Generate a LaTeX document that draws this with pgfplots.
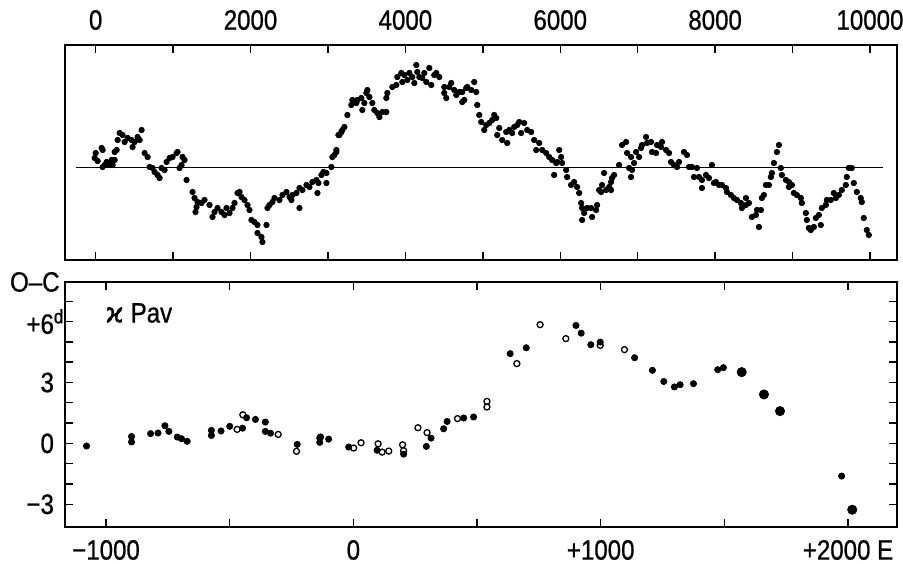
\documentclass[border=0pt]{standalone}
\usepackage{fontspec}
\setmainfont{Liberation Sans}[FakeStretch=0.86, FakeBold=0.8]
\newfontfamily\dejavu{DejaVu Sans}[FakeBold=0.8]
\usepackage{pgfplots}
\pgfplotsset{compat=1.18}
\usepackage{pgfplotstable}

% upper panel: O-C residuals of the dots, E from 0 to 10000 (y in arbitrary units)
\pgfplotstableread{
E y
0 14
-13 9
26 6
77 19
90 17
116 2
90 0
142 5
181 2
206 7
219 2
245 7
245 15
271 17
310 34
348 32
284 27
374 25
413 29
464 27
477 20
503 25
542 30
568 27
593 37
632 14
671 10
697 0
735 -1
761 -5
800 -8
826 -11
851 -1
890 -3
916 5
955 9
993 10
1045 14
1058 15
1109 2
1122 10
1148 7
1084 -1
1174 -13
1251 -25
1277 -31
1316 -35
1367 -36
1303 -40
1290 -45
1406 -33
1471 -38
1509 -50
1535 -45
1574 -41
1625 -45
1664 -48
1690 -41
1729 -46
1767 -41
1793 -36
1832 -26
1858 -25
1883 -30
1922 -33
1961 -38
1987 -43
2012 -53
2051 -55
2090 -58
2090 -66
2141 -70
2154 -75
2206 -58
2219 -41
2245 -38
2283 -35
2309 -31
2374 -33
2412 -28
2464 -25
2503 -30
2528 -33
2541 -28
2593 -26
2632 -41
2632 -21
2670 -23
2722 -18
2761 -20
2799 -15
2851 -13
2877 -16
2864 -26
2915 -8
2941 -5
2980 -6
2980 -16
3044 0
3057 10
3083 12
3109 15
3109 17
3135 32
3148 32
3186 37
3212 40
3173 35
3251 52
3302 62
3315 67
3367 64
3380 67
3431 69
3444 57
3470 64
3496 74
3509 77
3535 70
3573 64
3599 57
3638 54
3664 50
3702 55
3754 55
3754 69
3767 74
3831 80
3883 82
3896 90
3947 94
3960 85
3986 92
4025 87
4051 94
4089 90
4115 84
4141 102
4154 95
4180 90
4218 89
4244 94
4270 85
4309 99
4334 82
4373 92
4399 94
4438 90
4502 80
4502 74
4528 69
4567 80
4592 84
4631 77
4657 72
4696 75
4734 65
4786 79
4734 75
4760 67
4799 80
4850 77
4889 85
4915 75
4928 62
4954 52
4979 45
5018 37
5044 42
5083 44
5121 47
5147 52
5173 49
5186 32
5212 39
5250 27
5302 35
5315 24
5341 37
5379 34
5405 40
5444 42
5470 45
5495 34
5534 44
5573 37
5624 35
5663 27
5689 17
5728 24
5766 17
5818 14
5857 10
5895 7
5947 4
5921 -8
5960 5
5986 17
6011 10
6024 4
6076 -3
6089 -10
6140 -18
6179 -15
6218 -20
6244 -26
6269 -36
6282 -41
6308 -46
6282 -53
6347 -41
6398 -41
6411 -50
6463 -43
6476 -38
6502 -23
6540 -18
6566 -6
6527 -25
6592 -23
6631 -20
6656 -15
6669 -11
6695 -8
6656 -23
6760 2
6798 22
6850 25
6863 14
6914 10
6889 -1
6914 -10
6927 -3
6953 4
6979 15
7018 10
7043 19
7056 22
7108 30
7121 24
7172 25
7185 15
7237 14
7250 22
7301 20
7314 25
7366 17
7405 14
7430 5
7469 2
7508 0
7534 5
7598 15
7637 12
7663 0
7701 0
7727 -10
7766 -1
7792 -10
7830 -13
7882 -8
7921 -11
7959 2
7985 -16
8011 -15
7830 -21
8050 -18
8088 -18
8140 -21
8153 -25
8204 -28
8243 -31
8282 -33
8333 -36
8346 -41
8398 -31
8398 -38
8437 -36
8475 -50
8527 -48
8540 -43
8566 -60
8591 -43
8604 -31
8630 -28
8656 -18
8695 -18
8720 -10
8733 -6
8759 4
8798 15
8824 22
8849 -1
8862 -8
8914 -13
8953 -15
8953 -20
8991 -18
9017 -26
9056 -28
9107 -31
9120 -36
9172 -46
9185 -53
9211 -61
9236 -63
9275 -60
9301 -51
9340 -48
9365 -58
9378 -41
9430 -38
9443 -33
9494 -33
9533 -26
9559 -31
9598 -28
9636 -23
9688 -18
9701 -10
9727 -1
9765 -1
9791 -16
9830 -25
9881 -31
9894 -35
9920 -51
9959 -63
9985 -68
}\topdata

% lower panel, kappa Pav
\pgfplotstableread{
E oc
-1079 -0.13
-897 0.34
-897 0.07
-820 0.48
-790 0.51
-762 0.87
-746 0.59
-712 0.31
-695 0.23
-672 0.10
-574 0.64
-574 0.39
-535 0.61
-500 0.84
-448 0.75
-432 1.26
-396 1.18
-356 1.05
-356 0.59
-335 0.50
-227 -0.05
-136 0.26
-136 0.05
-100 0.21
-19 -0.18
96 -0.34
203 -0.53
295 -0.15
314 0.26
365 0.72
379 1.08
446 1.25
486 1.30
634 4.42
699 4.71
900 5.81
921 5.43
960 4.86
998 4.99
1137 4.22
1209 3.60
1255 3.05
1298 2.78
1321 2.89
1375 2.94
1473 3.63
1496 3.73
1974 -1.61
}\filled

\pgfplotstableread{
E oc
1570 3.51
1660 2.41
1725 1.59
2017 -3.27
}\bigdots

\pgfplotstableread{
E oc
-470 0.69
-447 1.41
-304 0.44
-230 -0.39
-133 0.31
1 -0.23
31 0.03
100 -0.02
116 -0.43
143 -0.38
199 -0.07
203 -0.36
261 0.77
298 0.53
421 1.22
540 2.07
540 1.79
661 3.93
755 5.85
859 5.16
998 4.83
1096 4.62
}\opendots

\pgfplotsset{
  panel/.style={
    scale only axis,
    width=416pt,
    axis line style={line width=0.9pt},
    tick align=inside,
    major tick length=4pt,
    minor tick length=4pt,
    every tick/.style={black, line width=0.7pt},
    every minor tick/.style={black, line width=0.7pt},
    tick label style={font=\fontsize{14}{16}\selectfont},
  },
}

\begin{document}
\begin{tikzpicture}
\path[use as bounding box] (-32.5pt,22.5pt) rectangle (419pt,-259pt);

\begin{axis}[panel,
  at={(0,0)}, anchor=north west,
  height=107.5pt,
  xmin=-396, xmax=10349, ymin=-93, ymax=122,
  xtick={0,2000,...,10000},
  minor xtick={1000,3000,...,9000},
  xticklabels={0,2000,4000,6000,8000,10000},
  xtick pos=both, xticklabel pos=upper,
  xticklabel style={yshift=4pt},
  ytick=\empty,
]
\addplot[black, line width=0.5pt] coordinates {(-254,0) (10164,0)};
\addplot[only marks, mark=*, mark size=1.35pt, black] table[x=E, y=y] {\topdata};
\end{axis}

\begin{axis}[panel,
  at={(0,-118.5pt)}, anchor=north west,
  height=122.5pt,
  xmin=-1166, xmax=2198, ymin=-4.12, ymax=7.95,
  xtick={-1000,0,1000,2000},
  minor xtick={-500,500,1500},
  xticklabels={−1000,0,+1000,+2000 E},
  xtick pos=both, xticklabel pos=lower,
  xticklabel style={yshift=-3pt},
  ytick={-3,0,3,6},
  minor ytick={-2,-1,1,2,4,5,7},
  yticklabels={−3,0,3,+6\rlap{\textsuperscript{d}}},
  ytick pos=both, yticklabel pos=left,
  yticklabel style={xshift=-2pt},
  clip=false,
]
\addplot[only marks, mark=*, mark size=1.55pt, black] table[x=E, y=oc] {\filled};
\addplot[only marks, mark=*, mark size=2.3pt, black] table[x=E, y=oc] {\bigdots};
\addplot[only marks, mark=o, mark size=1.5pt, mark options={line width=0.65pt}, black] table[x=E, y=oc] {\opendots};
\node[anchor=east, font=\fontsize{14}{16}\selectfont, inner sep=0pt] at ([xshift=-2.5pt]rel axis cs:0,1) {O–C};
\node[anchor=west, font=\fontsize{14}{16}\selectfont, inner sep=0pt] at ([xshift=20pt,yshift=-15.5pt]rel axis cs:0,1) {{\dejavu ϰ} Pav};
\end{axis}
\end{tikzpicture}
\end{document}
